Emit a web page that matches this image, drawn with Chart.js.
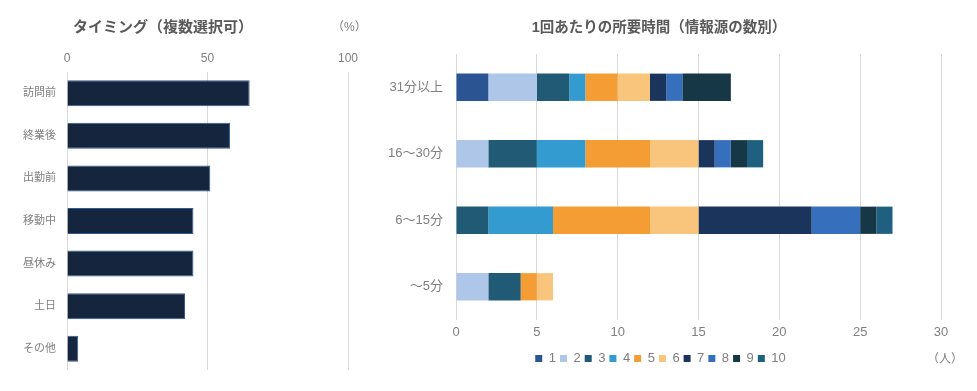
<!DOCTYPE html>
<html lang="ja">
<head>
<meta charset="utf-8">
<script src="https://cdn.jsdelivr.net/npm/chart.js@4"></script>
<style>
  body { margin: 0; background: #fff; width: 977px; height: 391px; overflow: hidden; position: relative;
         font-family: 'Liberation Sans', 'Noto Sans CJK JP', sans-serif; }
  .box { position: absolute; top: 0; height: 391px; }
  .box canvas { display: block; }
  .txt { position: absolute; color: #595959; white-space: nowrap; }
  .ttl { font-weight: bold; font-size: 15px; transform: translateX(-50%); }
  .unit { font-size: 12px; color: #7f7f7f; }
</style>
</head>
<body>
<div class="box" style="left:0;width:380px"><canvas id="timing" width="380" height="391"></canvas></div>
<div class="box" style="left:380px;width:597px"><canvas id="duration" width="597" height="391"></canvas></div>
<div class="txt ttl" style="left:163px;top:15px">タイミング（複数選択可）</div>
<div class="txt unit" style="left:332px;top:17px">（%）</div>
<div class="txt ttl" style="left:659px;top:15px;font-size:14.5px">1回あたりの所要時間（情報源の数別）</div>
<div class="txt unit" style="left:927px;top:349px">（人）</div>
<script>
// left chart: timing (%)
var timingLabels = ['訪問前', '終業後', '出勤前', '移動中', '昼休み', '土日', 'その他'];
var timingValues = [65, 58, 51, 45, 45, 42, 4];

// right chart: time per session, by number of sources
var durationLabels = ['31分以上', '16〜30分', '6〜15分', '〜5分'];
var sourceCounts = ['1', '2', '3', '4', '5', '6', '7', '8', '9', '10'];
// people per count, order follows durationLabels
var src1  = [2, 0, 0, 0];
var src2  = [3, 2, 0, 2];
var src3  = [2, 3, 2, 2];
var src4  = [1, 3, 4, 0];
var src5  = [2, 4, 6, 1];
var src6  = [2, 3, 3, 1];
var src7  = [1, 1, 7, 0];
var src8  = [1, 1, 3, 0];
var src9  = [3, 1, 1, 0];
var src10 = [0, 1, 1, 0];
var srcColors = ['#2a5592', '#aec6e8', '#215a75', '#339bcf', '#f59d35',
                 '#f9c57c', '#1a345b', '#3670bd', '#163746', '#1f5f80'];

var gray = '#7f7f7f';
var gridColor = '#d9d9d9';
var fontFamily = "'Liberation Sans', 'Noto Sans CJK JP', sans-serif";

new Chart(document.getElementById('timing'), {
  type: 'bar',
  data: {
    labels: timingLabels,
    datasets: [{
      data: timingValues,
      backgroundColor: '#14253d',
      borderColor: '#2e5a94',
      borderWidth: 1,
      categoryPercentage: 1,
      barPercentage: 0.61
    }]
  },
  options: {
    indexAxis: 'y',
    responsive: false,
    animation: false,
    layout: { padding: { left: 0, right: 32, top: 0, bottom: 21 } },
    plugins: { legend: { display: false }, tooltip: { enabled: false } },
    scales: {
      x: {
        position: 'top',
        min: 0, max: 100,
        ticks: { stepSize: 50, color: gray, font: { size: 12, family: fontFamily }, padding: 6 },
        grid: { color: gridColor, drawTicks: false },
        border: { display: false },
        afterFit: function(s) { s.height = 72; }
      },
      y: {
        ticks: { color: gray, font: { size: 11, family: fontFamily }, padding: 11, autoSkip: false },
        grid: { display: false, drawTicks: false },
        border: { display: false },
        afterFit: function(s) { s.width = 67; }
      }
    }
  }
});

var srcData = [src1, src2, src3, src4, src5, src6, src7, src8, src9, src10];

new Chart(document.getElementById('duration'), {
  type: 'bar',
  data: {
    labels: durationLabels,
    datasets: sourceCounts.map(function(name, i) {
      return {
        label: name,
        data: srcData[i],
        backgroundColor: srcColors[i],
        borderWidth: 0,
        categoryPercentage: 1,
        barPercentage: 0.41
      };
    })
  },
  options: {
    indexAxis: 'y',
    responsive: false,
    animation: false,
    layout: { padding: { left: 0, right: 36, top: 54, bottom: 16 } },
    plugins: {
      tooltip: { enabled: false },
      legend: {
        position: 'bottom',
        labels: {
          color: gray,
          boxWidth: 7, boxHeight: 7,
          padding: 4,
          font: { size: 13, family: fontFamily }
        }
      }
    },
    scales: {
      x: {
        stacked: true,
        min: 0, max: 30,
        ticks: { stepSize: 5, color: gray, font: { size: 13, family: fontFamily }, padding: 5 },
        grid: { color: gridColor, drawTicks: false },
        border: { display: false },
        afterFit: function(s) { s.height = 28; }
      },
      y: {
        stacked: true,
        ticks: { color: gray, font: { size: 13, family: fontFamily }, padding: 13, autoSkip: false },
        grid: { display: false, drawTicks: false },
        border: { display: false },
        afterFit: function(s) { s.width = 76; }
      }
    }
  }
});
</script>
</body>
</html>
